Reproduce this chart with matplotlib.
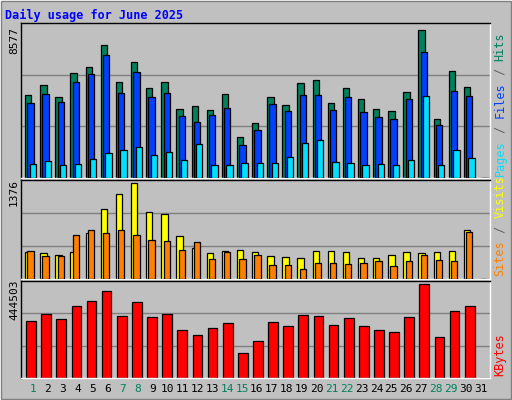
import matplotlib
matplotlib.use("Agg")
import matplotlib.pyplot as plt
from matplotlib.patches import Rectangle

days = list(range(1, 32))
hits = [4834,5419,4717,6121,6472,7700,5595,6764,5244,5595,4016,4191,3957,4893,2378,3197,4717,4250,5536,5712,4367,5244,4600,4016,3899,5010,8577,3431,6238,5302,0]
files = [4367,4893,4425,5595,6063,7174,4951,6180,4717,4951,3606,3255,3665,4074,1910,2788,4308,3899,4834,4834,3957,4717,3840,3548,3431,4600,7349,3080,5068,4776,0]
pages = [799,975,741,799,1092,1443,1618,1793,1326,1501,1033,1969,741,741,858,858,858,1209,2027,2203,916,858,741,799,741,1033,4776,741,1618,1150,0]
visits = [389,374,344,389,658,1002,1212,1376,957,927,613,449,374,404,419,389,329,314,299,404,404,389,299,299,344,389,374,389,404,703,0]
sites = [404,329,329,628,703,658,703,628,553,538,419,523,284,389,284,344,194,194,150,224,224,209,224,254,179,254,344,269,254,673,0]
kbytes = [268620,302800,278400,341900,361400,410300,293000,356500,288200,302800,224700,205100,234400,258900,117200,175800,263700,244200,297900,293000,249100,283300,244200,224700,214900,288200,444503,195400,317500,341900,0]
weekends = [1,7,8,14,15,21,22,28,29]

W, H = 512, 400
fig = plt.figure(figsize=(W/100, H/100), dpi=100)
fig.patch.set_facecolor("#C0C0C0")
mono = "DejaVu Sans Mono"

def ax_at(x0, y0, x1, y1):
    a = fig.add_axes([x0/W, 1-y1/H, (x1-x0)/W, (y1-y0)/H])
    a.set_facecolor("#C0C0C0")
    a.set_xticks([]); a.set_yticks([])
    for s in a.spines.values():
        s.set_color("black"); s.set_linewidth(1)
    a.spines["right"].set_color("white"); a.spines["bottom"].set_color("white")
    a.set_xlim(0.5, 31.5)
    return a

def grid(a, top):
    for f in (1/3, 2/3):
        a.axhline(top*f, color="#808080", lw=1, zorder=0)

def xs(off):
    return [d - 0.5 + off for d in days]

bw = 0.42
a1 = ax_at(21, 23, 490, 178)
top1 = 8577*1.05
a1.set_ylim(0, top1); grid(a1, top1)
a1.bar(xs(0.27), hits, width=bw, align="edge", color="#00805C", edgecolor="black", lw=0.9, zorder=2)
a1.bar(xs(0.42), files, width=bw, align="edge", color="#0040FF", edgecolor="black", lw=0.9, zorder=3)
a1.bar(xs(0.57), pages, width=bw, align="edge", color="#00E0FF", edgecolor="black", lw=0.9, zorder=4)

a2 = ax_at(21, 180, 490, 279)
top2 = 1376*1.03
a2.set_ylim(0, top2); grid(a2, top2)
a2.bar(xs(0.27), visits, width=bw, align="edge", color="#FFFF00", edgecolor="black", lw=0.9, zorder=2)
a2.bar(xs(0.42), sites, width=bw, align="edge", color="#FF8000", edgecolor="black", lw=0.9, zorder=3)

a3 = ax_at(21, 281, 490, 378)
top3 = 444503*1.03
a3.set_ylim(0, top3); grid(a3, top3)
a3.bar(xs(0.34), kbytes, width=0.64, align="edge", color="#FF0000", edgecolor="black", lw=0.9, zorder=2)

for d in days:
    fig.text((33 + (d-1)*14.93)/W, 1-389/H, str(d), ha="center", va="center",
             fontsize=8, family=mono, color="#00805C" if d in weekends else "black")

fig.text(5/W, 1-15/H, "Daily usage for June 2025", fontsize=8.5, family=mono, weight="bold", color="#0000FF", va="center")
for txt, y in (("8577", 40), ("1376", 193), ("444503", 300)):
    fig.text(14/W, 1-y/H, txt, rotation=90, ha="center", va="center", fontsize=8, family=mono)

def vlabel(parts, ybottom):
    y = ybottom
    for t, c in parts:
        fig.text(500/W, 1-y/H, t, rotation=90, ha="center", va="bottom", fontsize=8.5, family=mono, color=c)
        y -= len(t)*7.2
vlabel([("Pages", "#00E0FF"), (" / ", "#606060"), ("Files", "#0040FF"), (" / ", "#606060"), ("Hits", "#00805C")], 176)
vlabel([("Sites", "#FF8000"), (" / ", "#606060"), ("Visits", "#FFFF00")], 276)
vlabel([("KBytes", "#FF0000")], 376)

fig.add_artist(Rectangle((0, 0), 1, 1, transform=fig.transFigure, fill=False, edgecolor="white", lw=2))
fig.add_artist(Rectangle((0.002, 0.002), 0.996, 0.996, transform=fig.transFigure, fill=False, edgecolor="#808080", lw=1))

fig.savefig("out.png", dpi=100, facecolor=fig.get_facecolor())
